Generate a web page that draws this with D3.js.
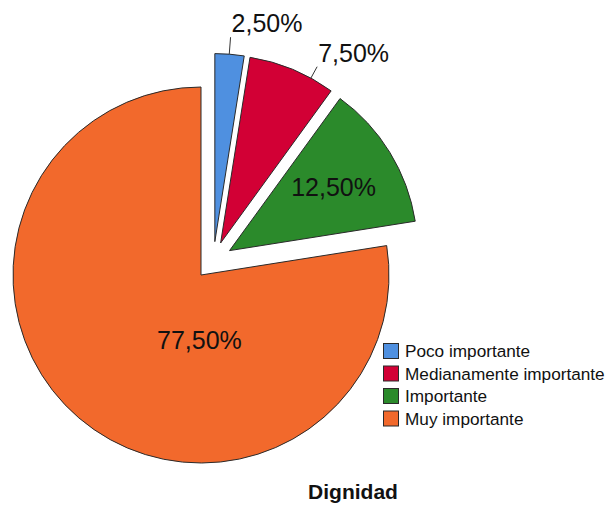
<!DOCTYPE html>
<html>
<head>
<meta charset="utf-8">
<script src="https://cdn.jsdelivr.net/npm/d3@7"></script>
<style>
  html, body { margin: 0; padding: 0; background: #fff; }
  svg { display: block; }
</style>
</head>
<body>
<svg id="chart" width="611" height="508"></svg>
<script>
// ---- data ----
const categories = ["Poco importante", "Medianamente importante", "Importante", "Muy importante"];
const values = [2.5, 7.5, 12.5, 77.5];
const labels = ["2,50%", "7,50%", "12,50%", "77,50%"];
const exploded = [true, true, true, false];
const colors = ["#4f90e0", "#d20035", "#2b8a2b", "#f2692c"];
const title = "Dignidad";

// ---- layout / style ----
const W = 611, H = 508;
const cx = 201, cy = 275, R = 188;
const explodeK = 19;
const labelPlace = [
  {mode: "out", angle: 4.4, r0: 188, r1: 205},
  {mode: "out", angle: 28.7, r0: 188, r1: 201},
  {mode: "in", angle: 58.5, r: 122},
  {mode: "in", angle: 181.4, r: 65}
];

const svg = d3.select("#chart");
const deg = Math.PI / 180;
const u = a => [Math.sin(a), -Math.cos(a)];

const pie = d3.pie().sort(null).value(d => d)(values);
const arc = d3.arc().innerRadius(0).outerRadius(R);

const exArcs = pie.filter((p, i) => exploded[i]);
const gStart = d3.min(exArcs, p => p.startAngle), gEnd = d3.max(exArcs, p => p.endAngle);
const gMid = (gStart + gEnd) / 2;

const offsets = pie.map((p, i) => {
  if (!exploded[i]) return [0, 0];
  const m = (p.startAngle + p.endAngle) / 2;
  const a = u(m), b = u(gMid);
  return [explodeK * (a[0] + b[0]), explodeK * (a[1] + b[1])];
});

const g = svg.append("g");
pie.forEach((p, i) => {
  const ox = cx + offsets[i][0], oy = cy + offsets[i][1];
  const sg = g.append("g").attr("transform", `translate(${ox},${oy})`);
  sg.append("path")
    .attr("d", arc(p))
    .attr("fill", colors[i])
    .attr("stroke", "#2a2a2a")
    .attr("stroke-width", 1)
    .attr("stroke-linejoin", "miter");
});

pie.forEach((p, i) => {
  const ox = cx + offsets[i][0], oy = cy + offsets[i][1];
  const lp = labelPlace[i];
  const dir = u(lp.angle * deg);
  if (lp.mode === "out") {
    const x0 = ox + dir[0] * lp.r0, y0 = oy + dir[1] * lp.r0;
    const x1 = ox + dir[0] * lp.r1, y1 = oy + dir[1] * lp.r1;
    g.append("line")
      .attr("x1", x0).attr("y1", y0).attr("x2", x1).attr("y2", y1)
      .attr("stroke", "#333").attr("stroke-width", 1);
    g.append("text")
      .attr("x", x1 + 1).attr("y", y1 - 5)
      .attr("font-family", "Liberation Sans, Arial, sans-serif")
      .attr("font-size", 25)
      .attr("fill", "#111")
      .text(labels[i]);
  } else {
    g.append("text")
      .attr("x", ox + dir[0] * lp.r).attr("y", oy + dir[1] * lp.r)
      .attr("text-anchor", "middle")
      .attr("dominant-baseline", "central")
      .attr("font-family", "Liberation Sans, Arial, sans-serif")
      .attr("font-size", 25)
      .attr("fill", "#111")
      .text(labels[i]);
  }
});

const leg = svg.append("g").attr("transform", "translate(383,343)");
const ly = d3.scaleBand().domain(categories).range([0, 90]);
categories.forEach((c, i) => {
  const row = leg.append("g").attr("transform", `translate(0,${ly(c)})`);
  row.append("rect")
    .attr("x", 0.5).attr("y", 0.5).attr("width", 15).attr("height", 15)
    .attr("fill", colors[i]).attr("stroke", "#2a2a2a").attr("stroke-width", 1);
  row.append("text")
    .attr("x", 22).attr("y", 14)
    .attr("font-family", "Liberation Sans, Arial, sans-serif")
    .attr("font-size", 17.2)
    .attr("fill", "#111")
    .text(c);
});

svg.append("text")
  .attr("x", 353).attr("y", 499)
  .attr("text-anchor", "middle")
  .attr("font-family", "Liberation Sans, Arial, sans-serif")
  .attr("font-size", 21)
  .attr("font-weight", "bold")
  .attr("fill", "#111")
  .text(title);
</script>
</body>
</html>
